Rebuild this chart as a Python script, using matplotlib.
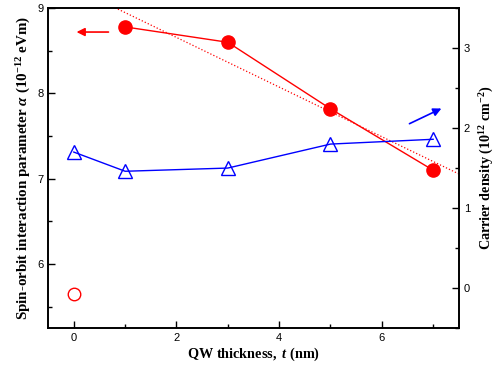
import numpy as np
import matplotlib
matplotlib.use("Agg")
import matplotlib.pyplot as plt
from matplotlib.ticker import MultipleLocator

plt.rcParams['font.family'] = ['Liberation Sans', 'DejaVu Sans']
plt.rcParams['mathtext.fontset'] = 'custom'
plt.rcParams['mathtext.rm'] = 'Liberation Serif:bold'
plt.rcParams['mathtext.it'] = 'Liberation Serif:bold:italic'
plt.rcParams['mathtext.bf'] = 'Liberation Serif:bold'

# spin-orbit parameter (left axis)
thickness = [1, 3, 5, 7]
alpha = [8.78, 8.60, 7.82, 7.10]
# open circle at t = 0
thickness_zero = [0]
alpha_zero = [5.65]
# carrier density (right axis)
thickness_n = [0, 1, 3, 5, 7]
density = [1.70, 1.46, 1.50, 1.80, 1.86]

RED = '#ff0000'
BLUE = '#0000ff'

fig = plt.figure(figsize=(4.96, 3.71), dpi=100)
ax = fig.add_axes([0.097, 0.116, 0.828, 0.862])
ax2 = ax.twinx()

# linear fit of alpha
p = np.polyfit(thickness, alpha, 1)
xfit = np.array([-0.5, 7.5])
ax.plot(xfit, np.polyval(p, xfit), ':', color=RED, lw=0.9)

ax.plot(thickness, alpha, '-o', color=RED, ms=9.5, lw=1)
ax.plot(thickness_zero, alpha_zero, 'o', mfc='none', mec=RED, ms=9, mew=1)
ax2.plot(thickness_n, density, '-^', color=BLUE, mfc='none', mec=BLUE, ms=10, lw=1, mew=1)

# direction arrows
ax.annotate('', xy=(0.0, 8.72), xytext=(0.73, 8.72),
            arrowprops=dict(arrowstyle='-|>', color=RED, lw=1.2, mutation_scale=12))
ax2.annotate('', xy=(7.21, 2.26), xytext=(6.49, 2.04),
             arrowprops=dict(arrowstyle='-|>', color=BLUE, lw=1.2, mutation_scale=12))

ax.set_xlim(-0.5, 7.5)
ax.set_ylim(5.25, 9)
ax2.set_ylim(-0.5, 3.5)

ax.xaxis.set_major_locator(MultipleLocator(2))
ax.xaxis.set_minor_locator(MultipleLocator(1))
ax.yaxis.set_major_locator(MultipleLocator(1))
ax.yaxis.set_minor_locator(MultipleLocator(0.5))
ax2.yaxis.set_major_locator(MultipleLocator(1))
ax2.yaxis.set_minor_locator(MultipleLocator(0.5))

for a in (ax, ax2):
    a.tick_params(which='both', direction='in', labelsize=8, width=1, colors='black')
    a.tick_params(which='major', length=5)
    a.tick_params(which='minor', length=3)
    for s in a.spines.values():
        s.set_linewidth(1.2)
ax.tick_params(top=False, which='both')

ax.set_xlabel(r'$\mathrm{QW\ thickness,}\ t\mathrm{\ (nm)}$', fontsize=10.3, labelpad=2)
ax.set_ylabel(r'$\mathrm{Spin\text{-}orbit\ interaction\ parameter\ }\alpha\mathrm{\ (10^{-12}\ eVm)}$',
              fontsize=10.8, labelpad=3)
ax2.set_ylabel(r'$\mathrm{Carrier\ density\ (10^{12}\ cm^{-2})}$', fontsize=10.2, labelpad=6)

fig.savefig('out.png', dpi=100)
